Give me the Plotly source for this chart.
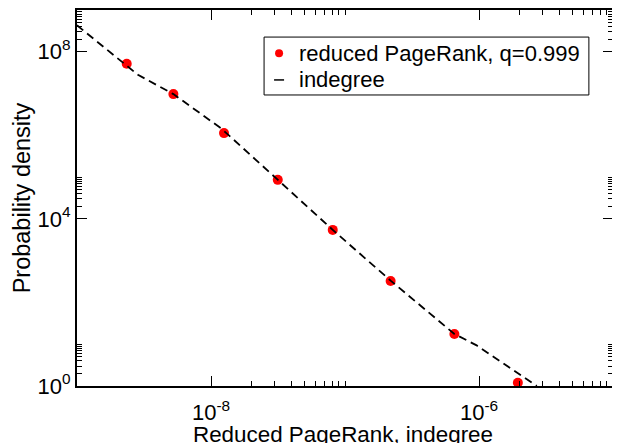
import plotly.graph_objects as go

# Reduced PageRank (q=0.999) distribution - red dots
pr_x = [2.35e-9, 5.24e-9, 1.25e-8, 3.15e-8, 8.1e-8, 2.19e-7, 6.55e-7, 1.95e-6]
pr_y = [5.16e7, 9.7e6, 1.13e6, 8.6e4, 5.45e3, 327, 17.6, 1.2]

# Indegree distribution - dashed line
in_x = [1.0e-9, 2.85e-9, 5.24e-9, 1.19e-8, 3.13e-8, 8.1e-8, 2.19e-7, 6.55e-7, 9.6e-7, 2.7e-6]
in_y = [4.3e8, 2.81e7, 9.7e6, 1.47e6, 8.8e4, 5.45e3, 333, 17.6, 9.4, 1.0]

x_major_exp = [-8, -6]
y_major_exp = [0, 4, 8]
x_ticktext = ["10<sup>-8</sup>", "10<sup>-6</sup>"]
y_ticktext = ["10<sup>0</sup>", "10<sup>4</sup>", "10<sup>8</sup>"]

x_title = "Reduced PageRank, indegree"
y_title = "Probability density"
pr_name = "reduced PageRank, q=0.999"
in_name = "indegree"

x_minor = [m * 10.0 ** e for e in x_major_exp for m in range(2, 11)]
y_minor = [m * 10.0 ** e for e in y_major_exp for m in range(2, 11)]

FONT = "Liberation Sans, Arial, sans-serif"
DOT_RED = "#ff0000"

fig = go.Figure()
fig.add_trace(go.Scatter(
    x=pr_x, y=pr_y, mode="markers", name=pr_name, showlegend=False,
    marker=dict(color=DOT_RED, size=10, line=dict(width=0)),
))
fig.add_trace(go.Scatter(
    x=in_x, y=in_y, mode="lines", name=in_name, showlegend=False,
    line=dict(color="black", width=1.8, dash="8px,5px"),
))

axis_common = dict(
    type="log", showgrid=False, zeroline=False, automargin=False,
    showline=True, linecolor="black", linewidth=2, mirror="allticks",
    ticks="inside", ticklen=10, tickwidth=1, tickcolor="black",
    tickfont=dict(family=FONT, size=22, color="black"),
)

fig.update_xaxes(
    **axis_common,
    range=[-9, -5],
    tickmode="array",
    tickvals=[10.0 ** e for e in x_major_exp],
    ticktext=x_ticktext,
    ticklabelstandoff=6,
    minor=dict(tickmode="array", tickvals=x_minor, ticks="inside", ticklen=5,
               tickwidth=1, tickcolor="black", showgrid=False),
)
fig.update_yaxes(
    **axis_common,
    range=[0, 9],
    tickmode="array",
    tickvals=[10.0 ** e for e in y_major_exp],
    ticktext=y_ticktext,
    minor=dict(tickmode="array", tickvals=y_minor, ticks="inside", ticklen=5,
               tickwidth=1, tickcolor="black", showgrid=False),
    title=dict(text=y_title, font=dict(family=FONT, size=23.5, color="black"), standoff=0),
)

# Legend drawn as a boxed key in paper coordinates
LEG_X0, LEG_X1, LEG_Y0, LEG_Y1 = 0.349, 0.955, 0.774, 0.928
ROW1_Y, ROW2_Y = 0.885, 0.814
SYM_X, TEXT_X = 0.377, 0.410

shapes = [
    dict(type="rect", xref="paper", yref="paper", x0=LEG_X0, x1=LEG_X1, y0=LEG_Y0, y1=LEG_Y1,
         line=dict(color="black", width=1), fillcolor="white", layer="above"),
    dict(type="circle", xref="paper", yref="paper", xsizemode="pixel", ysizemode="pixel",
         xanchor=SYM_X, yanchor=ROW1_Y, x0=-4, x1=4, y0=-4, y1=4,
         fillcolor=DOT_RED, line=dict(width=0), layer="above"),
    dict(type="line", xref="paper", yref="paper", xsizemode="pixel",
         xanchor=SYM_X, x0=-5, x1=5, y0=ROW2_Y, y1=ROW2_Y,
         line=dict(color="black", width=1.5), layer="above"),
]
annotations = [
    dict(text=pr_name, xref="paper", yref="paper", x=TEXT_X, y=ROW1_Y,
         xanchor="left", yanchor="middle", showarrow=False,
         font=dict(family=FONT, size=22, color="black")),
    dict(text=in_name, xref="paper", yref="paper", x=TEXT_X, y=ROW2_Y,
         xanchor="left", yanchor="middle", showarrow=False,
         font=dict(family=FONT, size=22, color="black")),
    # x-axis title
    dict(text=x_title, xref="paper", yref="paper", x=0.496, y=-0.128,
         xanchor="center", yanchor="middle", showarrow=False,
         font=dict(family=FONT, size=22.4, color="black")),
]

fig.update_layout(
    width=620, height=443,
    margin=dict(l=69, r=15, t=2, b=65),
    paper_bgcolor="white", plot_bgcolor="white",
    font=dict(family=FONT, size=22, color="black"),
    showlegend=False,
    shapes=shapes,
    annotations=annotations,
)

fig.write_html("out.html")
